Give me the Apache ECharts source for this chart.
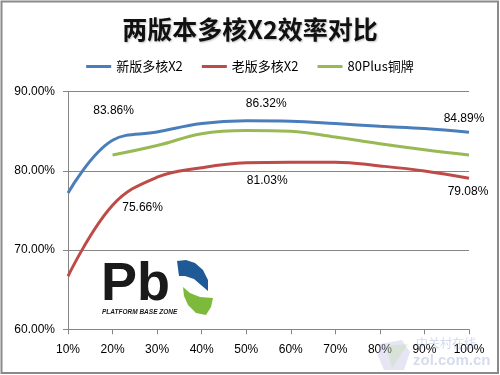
<!DOCTYPE html>
<html>
<head>
<meta charset="utf-8">
<script src="https://cdn.jsdelivr.net/npm/echarts@6/dist/echarts.min.js"></script>
<style>
html,body{margin:0;padding:0;background:#fff;}
#c{width:500px;height:375px;}
</style>
</head>
<body>
<div id="c"></div>
<script>
// ---- data ----
var titleText = '两版本多核X2效率对比';
var categories = ['10%','20%','30%','40%','50%','60%','70%','80%','90%','100%'];
var seriesNames = ['新版多核X2','老版多核X2','80Plus铜牌'];
var newX2 = [77.2, 83.86, 84.9, 85.98, 86.32, 86.27, 85.98, 85.63, 85.34, 84.89];
var oldX2 = [66.7, 75.66, 79.2, 80.4, 81.03, 81.1, 81.1, 80.63, 80.0, 79.08];
var bronze = [null, 82.0, 83.2, 84.7, 85.1, 85.0, 84.27, 83.43, 82.67, 82.0];
var yTicks = [60, 70, 80, 90];

// label placement (index -> offset from point), styling only
var labelCfg = [
  {1: [1, -30], 4: [20, -17], 9: [-5, -13]},
  {1: [30, 2], 4: [21, 18], 9: [-1, 14]},
  {}
];
var colors = ['#4A7EBB', '#BE4B48', '#98B954'];

function buildData(vals, cfg) {
  return vals.map(function (v, i) {
    if (cfg[i]) {
      return {
        value: v,
        label: {
          show: true, position: 'inside', offset: cfg[i],
          formatter: function (p) { return p.value.toFixed(2) + '%'; },
          color: '#000', fontSize: 12, fontFamily: 'Liberation Sans'
        }
      };
    }
    return v;
  });
}

var chart = echarts.init(document.getElementById('c'), null, {renderer: 'canvas'});
var all = [newX2, oldX2, bronze];
var series = all.map(function (vals, k) {
  return {
    name: seriesNames[k],
    type: 'line',
    data: buildData(vals, labelCfg[k]),
    smooth: 0.4,
    symbol: 'circle',
    symbolSize: 0,
    showSymbol: true,
    connectNulls: false,
    lineStyle: {color: colors[k], width: 3},
    itemStyle: {color: colors[k]},
    label: {show: false},
    z: 3 - k
  };
});

chart.setOption({
  animation: false,
  backgroundColor: '#fff',
  title: {
    text: titleText, left: 'center', top: 12,
    textStyle: {fontFamily: 'Noto Sans CJK SC', fontWeight: 'bold', fontSize: 25, color: '#111',
      textShadowColor: 'rgba(0,0,0,0.25)', textShadowBlur: 2, textShadowOffsetX: 1, textShadowOffsetY: 1}
  },
  legend: {
    data: seriesNames, left: 'center', top: 55,
    icon: 'rect', itemWidth: 25, itemHeight: 3, itemGap: 19,
    textStyle: {fontFamily: 'Noto Sans CJK SC', fontSize: 13, color: '#000'}
  },
  grid: {left: 68, right: 31, top: 91.7, bottom: 45.7, containLabel: false},
  xAxis: {
    type: 'category', data: categories, boundaryGap: false,
    axisLine: {show: true, lineStyle: {color: '#868686', width: 1}},
    axisTick: {show: true, length: 5, alignWithLabel: true, lineStyle: {color: '#868686'}},
    axisLabel: {margin: 14, color: '#000', fontSize: 12, fontFamily: 'Liberation Sans'},
    splitLine: {show: false}
  },
  yAxis: {
    type: 'value', min: yTicks[0], max: yTicks[yTicks.length - 1], interval: 10,
    axisLine: {show: true, lineStyle: {color: '#868686', width: 1}},
    axisTick: {show: true, length: 5, lineStyle: {color: '#868686'}},
    axisLabel: {margin: 13, color: '#000', fontSize: 12, fontFamily: 'Liberation Sans',
      formatter: function (v) { return v.toFixed(2) + '%'; }},
    splitLine: {show: true, lineStyle: {color: '#868686', width: 1}}
  },
  series: series,
  graphic: [
    {type: 'rect', shape: {x: 1.5, y: 1.5, width: 496.5, height: 371.5},
     style: {fill: 'none', stroke: '#8a8a8a', lineWidth: 2}, z: 10, silent: true},
    // Pb logo
    {type: 'text', left: 101, top: 258, z: 5,
     style: {text: 'Pb', font: '900 54px "Liberation Sans"', fill: '#1a1a1a'}},
    {type: 'text', left: 102, top: 309, z: 5,
     style: {text: 'PLATFORM BASE ZONE', font: 'italic bold 6.5px "Liberation Sans"', fill: '#1a1a1a'}},
    {type: 'polygon', z: 5, shape: {points: [[177,261],[186,260],[195,263],[203,270],[208,280],[208,291],[201,285],[194,279],[185,276],[179,276]]},
     style: {fill: '#1F5A96'}},
    {type: 'polygon', z: 5, shape: {points: [[183,287],[190,293],[200,297],[213,298],[211,307],[206,315],[196,313],[188,305],[184,296]]},
     style: {fill: '#7DBA3C'}},
    // zol watermark
    {type: 'polygon', z: 1, shape: {points: [[380,344],[402,340],[410,352],[404,370],[384,370],[378,356]]},
     style: {fill: 'rgba(170,170,220,0.3)'}},
    {type: 'polygon', z: 1, shape: {points: [[386,346],[408,344],[392,368]]},
     style: {fill: 'rgba(190,220,150,0.3)'}},
    {type: 'text', left: 416, top: 337, z: 1,
     style: {text: '中关村在线', font: '12px "Noto Sans CJK SC"', fill: 'rgba(110,130,200,0.3)'}},
    {type: 'text', left: 413, top: 353, z: 1,
     style: {text: 'zol.com.cn', font: 'bold 15px "Liberation Sans"', fill: 'rgba(120,140,200,0.3)'}}
  ]
});
</script>
</body>
</html>
